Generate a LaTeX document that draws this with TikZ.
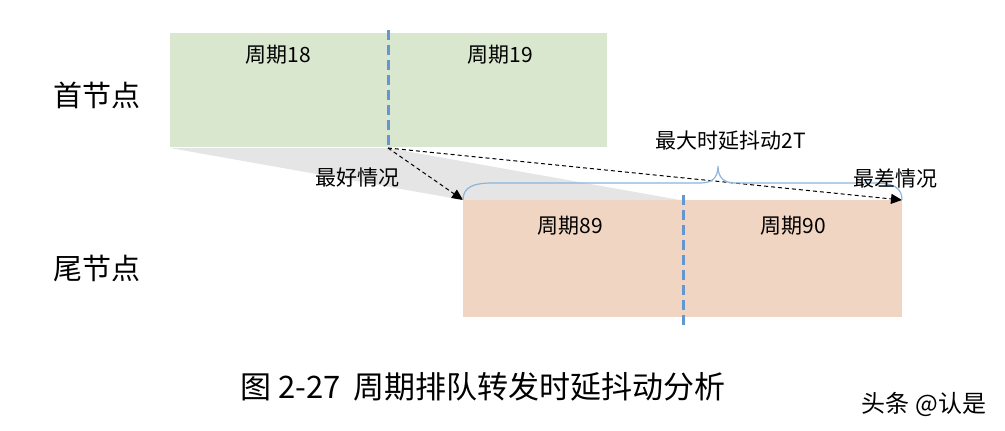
\documentclass[tikz,border=0pt]{standalone}
\usepackage{fontspec}
\setmainfont{Liberation Serif}
\newfontfamily\cjk{Noto Sans CJK SC}
\usetikzlibrary{arrows.meta}
\definecolor{gbox}{RGB}{216,231,206}
\definecolor{obox}{RGB}{240,213,194}
\definecolor{bl}{RGB}{100,150,210}
\definecolor{br}{RGB}{140,180,220}
\tikzset{lbl/.style={font=\cjk\fontsize{21}{24}\selectfont,inner sep=0pt},
 big/.style={font=\cjk\fontsize{29}{32}\selectfont,inner sep=0pt},
 sep/.style={bl,line width=3pt,dash pattern=on 10pt off 5pt},
 arr/.style={dash pattern=on 4pt off 3pt,line width=1pt,-{Triangle[length=11pt,width=10pt]}}}
\begin{document}
\begin{tikzpicture}[x=1pt,y=-1pt]
\useasboundingbox (0,0) rectangle (1005,431);
\fill[gray!20] (170,148) -- (388,148) -- (680,200) -- (463,200) -- cycle;
\fill[gbox] (170,33) rectangle (607,147);
\fill[obox] (463,200) rectangle (902,317);
\draw[sep] (388,30) -- (388,150);
\draw[sep] (683,195) -- (683,325);
\node[lbl] (c18) at (278,55) {周期18};
\node[lbl] (c19) at (500,55) {周期19};
\node[lbl] (c89) at (570,226) {周期89};
\node[lbl] (c90) at (793,226) {周期90};
\node[big] (h) at (97,95) {首节点};
\node[big] (t) at (97,268) {尾节点};
\coordinate (s) at (388,148);
\coordinate (b) at (463,200);
\coordinate (w) at (902,200);
\draw[arr] (s) -- (b);
\draw[arr] (s) -- (w);
\draw[br,line width=1.2pt] (463,200) .. controls (463,188) and (472,183) .. (492,183) -- (700,183) .. controls (712,183) and (718,178) .. (718,166)
  .. controls (718,178) and (724,183) .. (736,183) -- (874,183) .. controls (894,183) and (902,188) .. (902,200);
\node[lbl] (m) at (731,141) {最大时延抖动2T};
\node[lbl] (best) at (357,178) {最好情况};
\node[lbl] (worst) at (895,178) {最差情况};
\node[font=\cjk\fontsize{31}{34}\selectfont,inner sep=0pt] (cap) at (483,387) {图 2-27\hspace{12pt}周期排队转发时延抖动分析};
\node[font=\cjk\fontsize{24}{27}\selectfont,inner sep=0pt] (wm) at (924,404) {头条 @认是};
\end{tikzpicture}
\end{document}
